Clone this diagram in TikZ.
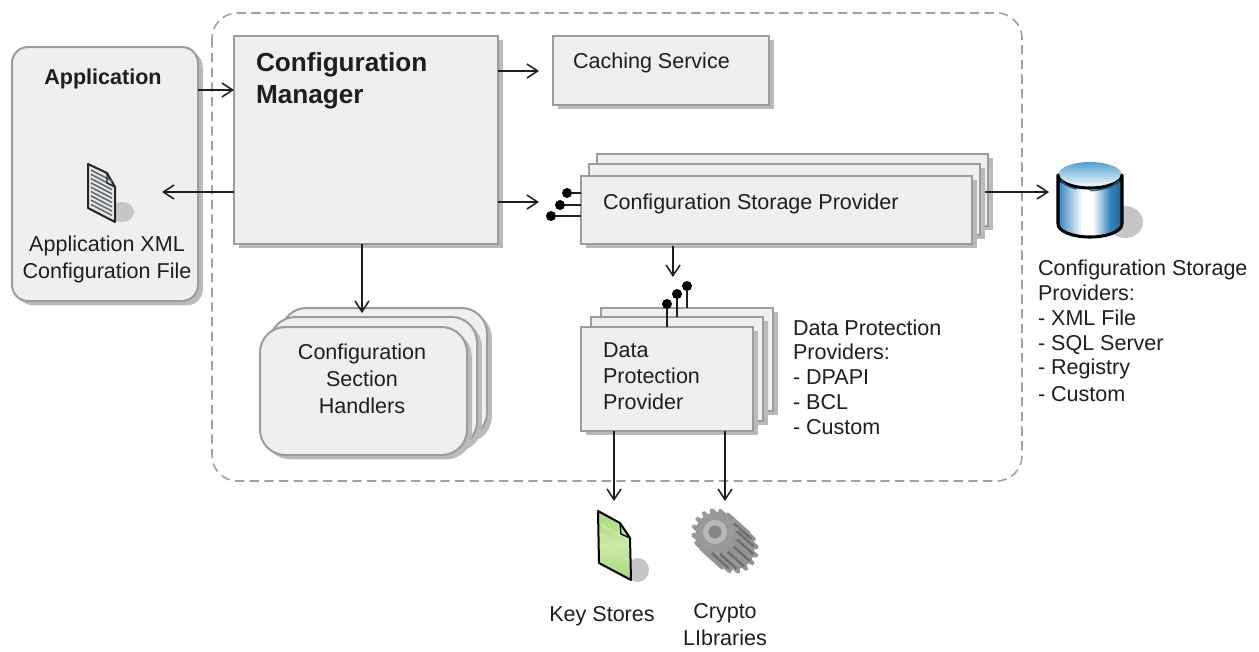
\documentclass[tikz,border=0pt]{standalone}
\usepackage{fontspec}
\setmainfont{Liberation Sans}
\usetikzlibrary{arrows.meta,shadows}
\definecolor{boxfill}{HTML}{EFEFEF}
\definecolor{boxline}{HTML}{9C9C9C}
\definecolor{shade}{HTML}{BABABA}
\definecolor{ink}{HTML}{1E1E1E}
\definecolor{softsh}{HTML}{C6C6C6}
\definecolor{cylblue}{HTML}{2F82BC}
\definecolor{cyltop}{HTML}{4E9FD2}
\definecolor{keyg}{HTML}{A6D97A}
\definecolor{keyl}{HTML}{CBEBA8}
\definecolor{docl}{HTML}{5A6472}
\pgfdeclarehorizontalshading{cylsh}{100bp}{color(0bp)=(cylblue); color(25bp)=(cylblue); color(44bp)=(white); color(52bp)=(white); color(66bp)=(cylblue); color(72bp)=(cylblue!85!black); color(75bp)=(cylblue!85!black); color(100bp)=(cylblue)}
\tikzset{
  pbox/.style={draw=boxline,fill=boxfill,line width=1.5pt,inner sep=0pt,outer sep=0pt,
    general shadow={fill=shade,shadow xshift=3.6pt,shadow yshift=-3.2pt}},
  arr/.style={draw=ink,line width=1.15pt,-{Straight Barb[length=8pt,width=10.5pt,line width=1.15pt]}},
  stem/.style={draw=ink,line width=1.3pt},
  lolli/.style={circle,fill=black,inner sep=0pt,minimum size=7.5pt},
  lbl/.style={text=ink,inner sep=0pt,outer sep=0pt,font=\fontsize{16.15}{18.6}\selectfont},
  lwide/.style={lbl,font=\fontsize{16.15}{20.2}\selectfont},
  lbig/.style={lbl,font=\fontsize{19.6}{24}\selectfont\bfseries}
}
\newcommand{\pb}[6][]{%
  \pgfmathsetmacro{\pw}{(#5-#3)*0.75}\pgfmathsetmacro{\ph}{(#6-#4)*0.75}%
  \node[pbox,minimum width=\pw pt,minimum height=\ph pt,#1] (#2) at ({(#3+#5)/2},{(#4+#6)/2}) {};}
\newcommand{\gearshape}[1]{%
  \fill[#1] (0:19)
   \foreach \a in {0,22.5,...,337.5}{
     -- ({\a-7}:19) -- ({\a-4}:23.5) -- ({\a+4}:23.5) -- ({\a+7}:19) -- ({\a+15.5}:19)
   } -- cycle;}
\begin{document}
\begin{tikzpicture}[x=0.75pt,y=-0.75pt]
\useasboundingbox (0,0) rectangle (1259,651);
\fill[white] (0,0) rectangle (1259,651);

% dashed container
\draw[draw=boxline!95,line width=1.2pt,dash pattern=on 7pt off 4pt,rounded corners=19pt]
  (212,13) rectangle (1022,481);

% application
\pb[rounded corners=12pt]{app}{12}{47}{198}{301}
\node[lbl,font=\fontsize{16.15}{18.6}\selectfont\bfseries] (apptitle) at (103,79) {Application};
\node[lwide,align=center] (apptext) at (107,259.5) {Application XML\\Configuration File};

% application file icon
\fill[softsh] (122,212) ellipse (12 and 10);
\draw[black!85,line width=1.5pt,fill=black!10,line join=round]
  (88,164) -- (107,173) -- (115,187) -- (115,222) -- (88,208) -- cycle;
\foreach \i in {0,1,...,8}{
  \draw[docl,line width=1.1pt] (91,{170+\i*4.3}) -- (112,{181+\i*4.3});
}
\draw[black!85,line width=1pt] (107,173) -- (107,183) -- (115,187);

% manager + caching
\pb{cm}{234}{36}{498}{244}
\node[lbig,anchor=north west,align=left] (cmtext) at (256,53) {Configuration\\Manager};
\pb{cache}{553}{36}{769}{105}
\node[lbl,anchor=west] (cachetext) at (573,63) {Caching Service};

% storage provider stack
\pb{cspc}{597}{154}{988}{226}
\pb{cspb}{589}{164}{980}{235}
\pb{csp}{581}{176}{972}{244}
\node[lbl,anchor=west] (csptext) at (603,204) {Configuration Storage Provider};

% handlers stack
\pb[rounded corners=19pt]{hc}{281}{308}{487}{438}
\pb[rounded corners=19pt]{hb}{270}{317}{477}{447}
\pb[rounded corners=19pt]{h}{260}{327}{467}{455}
\node[lwide,align=center] (htext) at (362,379) {Configuration\\Section\\Handlers};

% data protection stack
\pb{dppc}{601}{308}{773}{411}
\pb{dppb}{591}{317}{763}{421}
\pb{dpp}{581}{327}{753}{431}
\node[lbl,font=\fontsize{16.15}{19.4}\selectfont,align=left,anchor=west] (dpptext) at (603,376) {Data\\Protection\\Provider};
\node[lbl,align=left,anchor=north west] (dptext) at (793,319.5) {Data Protection\\Providers:\\- DPAPI\\- BCL\\- Custom};

% storage cylinder
\fill[softsh] (1125,222) ellipse (18 and 16);
\begin{scope}
  \clip (1058,175) -- (1058,224) arc[start angle=180,end angle=0,x radius=32,y radius=13] -- (1122,175) arc[start angle=0,end angle=180,x radius=32,y radius=13] -- cycle;
  \shade[shading=cylsh] (1058,160) rectangle (1122,240);
\end{scope}
\shade[top color=cyltop,bottom color=white] (1090,175) ellipse (32 and 13);
\draw[black,line width=2.3pt,line join=round] (1058,175) -- (1058,224) arc[start angle=180,end angle=0,x radius=32,y radius=13] -- (1122,175) arc[start angle=0,end angle=180,x radius=32,y radius=13] -- cycle;
\draw[cylblue!70!black,line width=1pt] (1061,180) arc[start angle=170,end angle=120,x radius=32,y radius=13];
\draw[cylblue!70!black,line width=1pt] (1119,180) arc[start angle=10,end angle=85,x radius=32,y radius=13];
\node[lbl,align=left,anchor=north west] (cstext) at (1038,260) {Configuration Storage\\Providers:\\- XML File\\- SQL Server\\- Registry\\[1.5pt]- Custom};

% key store icon
\fill[softsh] (638,570) ellipse (11 and 12);
\shade[top color=keyg,bottom color=keyg,middle color=keyl]
  (598,511) -- (620,523) -- (630,538) -- (631,580) -- (599,563) -- cycle;
\foreach \i in {1,2,3}{
  \draw[keyl,line width=.9pt] (601,{515+\i*10}) -- (628,{530+\i*10});
}
\draw[black,line width=1.5pt,line join=round] (598,511) -- (620,523) -- (630,538) -- (631,580) -- (599,563) -- cycle;
\draw[black,line width=1pt] (620,523) -- (621,534) -- (630,538);
\node[lbl] (kstext) at (602,616) {Key Stores};

% gear icon
\foreach \o in {20,19,...,1}{
  \begin{scope}[shift={({715+\o},{532+\o*0.9})},rotate=8]
    \gearshape{black!42}
  \end{scope}
}
\begin{scope}[shift={(715,532)}]
  \foreach \a in {-30,-7.5,...,120}{
    \draw[black!58,line width=1.6pt] (\a:20) -- ++(19,17);
  }
\end{scope}
\begin{scope}[shift={(715,532)},rotate=8]
  \gearshape{black!40}
  \fill[black!28] (0,0) circle (12);
  \fill[black!48] (0,0) circle (6.5);
\end{scope}
\node[lwide,align=center] (crtext) at (725,625) {Crypto\\LIbraries};

% connectors
\coordinate (y90) at (0,90);
\coordinate (filetip) at (162,192);
\coordinate (cachetip) at (539,71);
\coordinate (csptip) at (539,202);
\coordinate (dppup) at (673,277);
\coordinate (hx) at (362,313);
\coordinate (ksx) at (614,0);
\coordinate (crx) at (725,0);
\coordinate (kstip) at (614,501);
\coordinate (crtip) at (725,501);
\coordinate (dbtip) at (1049,192);
\coordinate (cspout) at (985,192);
\coordinate (cspdown) at (673,246);

\draw[arr] (app.east |- y90) -- (cm.west |- y90);
\draw[arr] (cm.west |- filetip) -- (filetip);
\draw[arr] (cm.east |- cachetip) -- (cachetip);
\draw[arr] (cm.east |- csptip) -- (csptip);
\draw[arr] (cm.south -| hx) -- (hx);
\draw[arr] (cspdown) -- (dppup);
\draw[arr] (dpp.south -| ksx) -- (kstip);
\draw[arr] (dpp.south -| crx) -- (crtip);
\draw[arr] (cspout) -- (dbtip);

% lollipops
\node[lolli] (l1) at (567,193) {};
\node[lolli] (l2) at (560,205) {};
\node[lolli] (l3) at (551,216) {};
\draw[stem] (l1) -- (csp.west |- l1);
\draw[stem] (l2) -- (csp.west |- l2);
\draw[stem] (l3) -- (csp.west |- l3);
\node[lolli] (d1) at (687,286) {};
\node[lolli] (d2) at (677,294) {};
\node[lolli] (d3) at (667,304) {};
\draw[stem] (d1) -- (d1 |- dppc.north);
\draw[stem] (d2) -- (d2 |- dppb.north);
\draw[stem] (d3) -- (d3 |- dpp.north);
\end{tikzpicture}
\end{document}
